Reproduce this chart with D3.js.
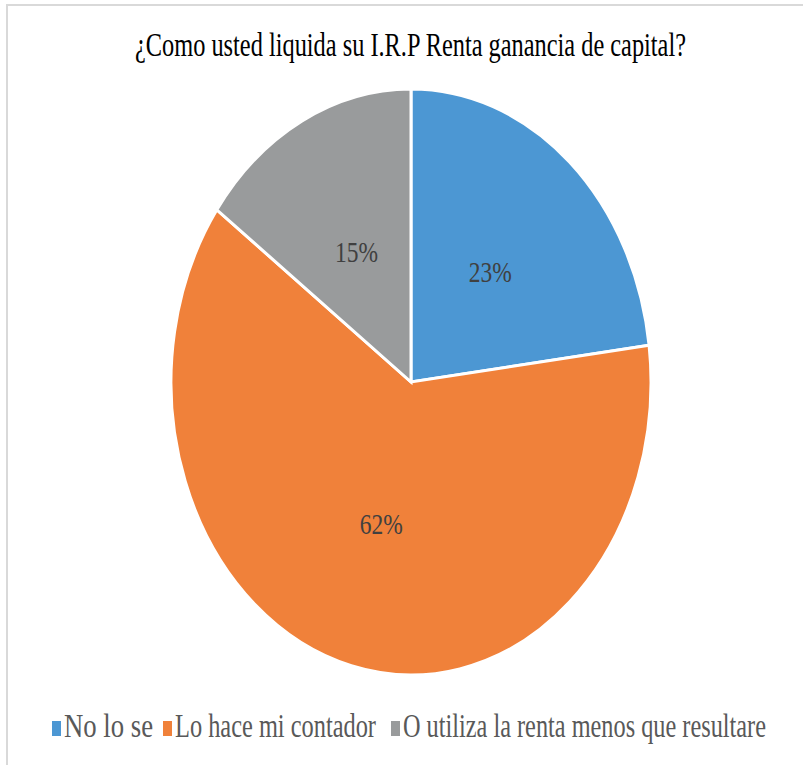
<!DOCTYPE html>
<html>
<head>
<meta charset="utf-8">
<script src="https://cdn.jsdelivr.net/npm/d3@7"></script>
<style>
  html, body { margin: 0; padding: 0; background: #fff; }
  svg { display: block; }
</style>
</head>
<body>
<script>
// Survey answers and their shares (percent)
const categories = ["No lo se", "Lo hace mi contador", "O utiliza la renta menos que resultare"];
const shares = [23, 62, 15];
const colors = ["#4C97D3", "#F0813A", "#999B9C"];
const title = "¿Como usted liquida su I.R.P Renta ganancia de capital?";

const W = 803, H = 765;
const sy = 1.2208; // vertical stretch of the whole figure
const serif = "'Liberation Serif', 'Times New Roman', serif";

const svg = d3.select("body").append("svg")
  .attr("width", W).attr("height", H);

// chart frame
svg.append("rect")
  .attr("x", 7).attr("y", 5)
  .attr("width", W + 20).attr("height", H + 20)
  .attr("fill", "none")
  .attr("stroke", "#d9d9d9")
  .attr("stroke-width", 2);

// title
svg.append("text")
  .attr("transform", `translate(410.5,56) scale(1,${sy})`)
  .attr("text-anchor", "middle")
  .attr("font-family", serif)
  .attr("font-size", 27)
  .attr("fill", "#000")
  .attr("textLength", 551)
  .attr("lengthAdjust", "spacingAndGlyphs")
  .text(title);

// pie
const R = 240;
const pie = d3.pie().sort(null).value(d => d)(shares);
const arc = d3.arc().innerRadius(0).outerRadius(R);

const g = svg.append("g")
  .attr("transform", `translate(411,382) scale(1,${sy})`);

g.selectAll("path.slice")
  .data(pie)
  .join("path")
  .attr("class", "slice")
  .attr("d", arc)
  .attr("fill", (d, i) => colors[i])
  .attr("stroke", "#fff")
  .attr("stroke-width", 3)
  .attr("vector-effect", "non-scaling-stroke");

g.selectAll("text.pct")
  .data(pie)
  .join("text")
  .attr("class", "pct")
  .attr("x", d => arc.centroid(d)[0])
  .attr("y", d => arc.centroid(d)[1])
  .attr("dy", "0.35em")
  .attr("text-anchor", "middle")
  .attr("font-family", serif)
  .attr("font-size", 24)
  .attr("fill", "#404040")
  .attr("textLength", 43)
  .attr("lengthAdjust", "spacingAndGlyphs")
  .text(d => d.data + "%");

// legend
const legendX = [52, 163, 391];
const legendW = [89, 201, 363];
const leg = svg.append("g");
categories.forEach((c, i) => {
  leg.append("rect")
    .attr("x", legendX[i]).attr("y", 721)
    .attr("width", 9).attr("height", 15)
    .attr("fill", colors[i]);
  leg.append("text")
    .attr("transform", `translate(${legendX[i] + 12},737) scale(1,${sy})`)
    .attr("font-family", serif)
    .attr("font-size", 27)
    .attr("fill", "#595959")
    .attr("textLength", legendW[i])
    .attr("lengthAdjust", "spacingAndGlyphs")
    .text(c);
});
</script>
</body>
</html>
